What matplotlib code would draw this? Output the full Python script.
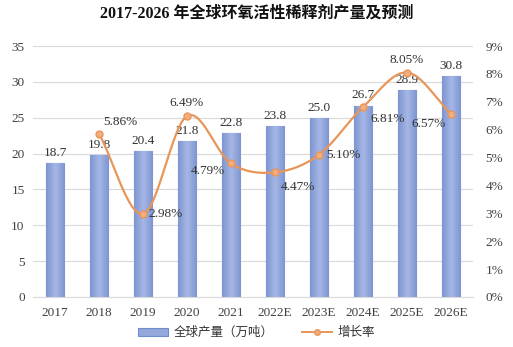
import matplotlib.pyplot as plt
import numpy as np
from matplotlib.colors import LinearSegmentedColormap

plt.rcParams['font.family'] = ['Liberation Serif', 'Noto Sans CJK SC']

years = ['2017', '2018', '2019', '2020', '2021', '2022E', '2023E', '2024E', '2025E', '2026E']
output = [18.7, 19.8, 20.4, 21.8, 22.8, 23.8, 25.0, 26.7, 28.9, 30.8]
growth = [None, 5.86, 2.98, 6.49, 4.79, 4.47, 5.10, 6.81, 8.05, 6.57]

# label offsets (points) for the growth-rate text
growth_off = [None, (3, 4), (4, 0), (0, 5), (-4, -1), (4, -6), (5, 0), (5, -4), (0, 5), (-4, -3)]


def smooth(xs, ys, n=30):
    # Catmull-Rom curve through the points, like a smoothed office line
    xs = np.asarray(xs, float)
    ys = np.asarray(ys, float)
    px = np.concatenate([[2 * xs[0] - xs[1]], xs, [2 * xs[-1] - xs[-2]]])
    py = np.concatenate([[2 * ys[0] - ys[1]], ys, [2 * ys[-1] - ys[-2]]])
    ox, oy = [], []
    t = np.linspace(0, 1, n)
    for i in range(1, len(px) - 2):
        for p, o in ((px, ox), (py, oy)):
            p0, p1, p2, p3 = p[i - 1], p[i], p[i + 1], p[i + 2]
            o.extend(0.5 * (2 * p1 + (-p0 + p2) * t
                            + (2 * p0 - 5 * p1 + 4 * p2 - p3) * t ** 2
                            + (-p0 + 3 * p1 - 3 * p2 + p3) * t ** 3))
    return np.array(ox), np.array(oy)


fig = plt.figure(figsize=(5.13, 3.47), dpi=100)
ax = fig.add_axes([0.0643, 0.1441, 0.8577, 0.7233])
ax2 = ax.twinx()

x = np.arange(len(years))
bars = ax.bar(x, output, width=0.42, color='#94A8DC', edgecolor='#6F8CCB', linewidth=0.8, zorder=2,
              label='全球产量（万吨）')

# shaded fill inside each bar: darker at the sides, lighter in the middle
cmap = LinearSegmentedColormap.from_list('barshade', ['#7E95D2', '#A5B7E4', '#7E95D2'])
grad = np.linspace(0, 1, 64).reshape(1, -1)
for b in bars:
    im = ax.imshow(grad, cmap=cmap, aspect='auto', zorder=2.1,
                   extent=(b.get_x(), b.get_x() + b.get_width(), 0, b.get_height()))
    im.set_clip_path(b)
ax.set_aspect('auto')

for xi, v in zip(x, output):
    ax.annotate(f'{v:.1f}', (xi, v), xytext=(0, 3), textcoords='offset points',
                ha='center', va='bottom', fontsize=9.5, color='#333333')

ax.set_ylim(0, 35)
ax.set_yticks(range(0, 36, 5))
ax.set_xlim(-0.5, len(years) - 0.5)
ax.set_xticks(x)
ax.set_xticklabels(years)
ax.grid(axis='y', color='#D9D9D9', linewidth=0.8, zorder=0)
ax.set_axisbelow(True)

gx = [xi for xi, g in zip(x, growth) if g is not None]
gy = [g for g in growth if g is not None]
sx, sy = smooth(gx, gy)
ax2.plot(sx, sy, color='#E8955A', linewidth=1.6, zorder=3)
ax2.plot(gx, gy, 'o', color='#E8955A', markerfacecolor='#F2AE80', markersize=5, zorder=4)
line_handle = ax2.plot([], [], '-o', color='#E8955A', markerfacecolor='#F2AE80', markersize=4,
                       linewidth=1.4, label='增长率')[0]
for xi, g, off in zip(x, growth, growth_off):
    if g is None:
        continue
    ha = 'center' if off[0] == 0 else ('left' if off[0] > 0 else 'right')
    ax2.annotate(f'{g:.2f}%', (xi, g), xytext=off, textcoords='offset points',
                 ha=ha, va='center' if off[1] == 0 else ('bottom' if off[1] > 0 else 'top'),
                 fontsize=9.5, color='#333333')

ax2.set_ylim(0, 9)
ax2.set_yticks(range(0, 10))
ax2.set_yticklabels([f'{i}%' for i in range(10)])

for a in (ax, ax2):
    for s in a.spines.values():
        s.set_visible(False)
    a.tick_params(length=0, labelsize=9.5, colors='#404040')
ax.spines['bottom'].set_visible(True)
ax.spines['bottom'].set_color('#D9D9D9')
ax.tick_params(axis='x', pad=7)
ax.tick_params(axis='y', pad=6)
ax2.tick_params(axis='y', pad=9)

fig.text(0.5, 0.962, '2017-2026 年全球环氧活性稀释剂产量及预测', ha='center', va='center',
         fontsize=11.5, fontweight='bold', color='#111111')

fig.legend([bars, line_handle], ['全球产量（万吨）', '增长率'], loc='center', ncol=2,
           bbox_to_anchor=(0.5, 0.04), frameon=False, fontsize=9, handlelength=2.4,
           handleheight=0.6, columnspacing=2.2, handletextpad=0.5, labelcolor='#333333')

fig.savefig('out.png', dpi=100)
